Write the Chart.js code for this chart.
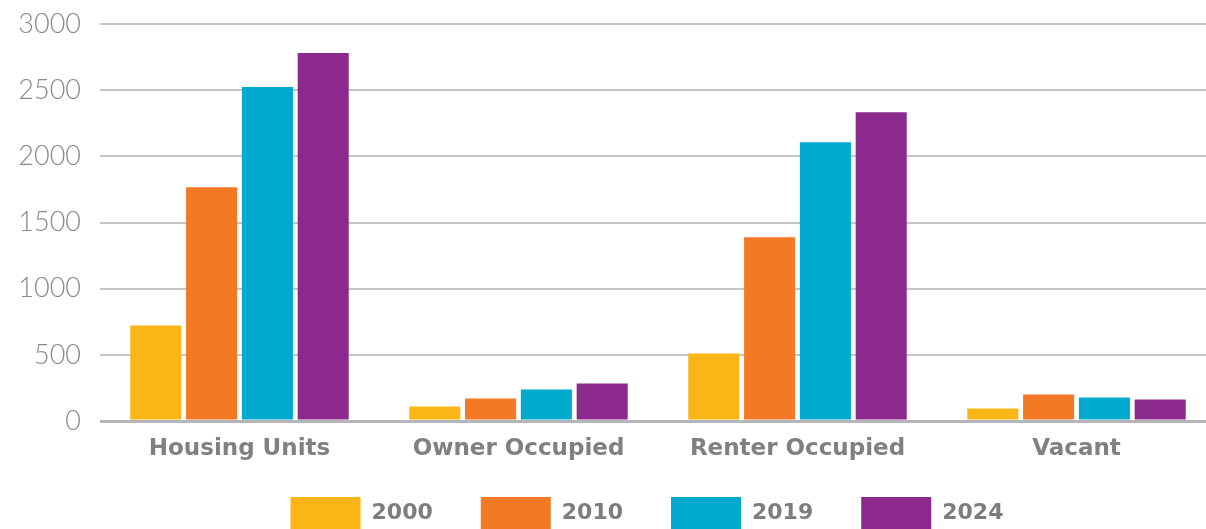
<!DOCTYPE html>
<html>
<head>
<meta charset="utf-8">
<script src="https://cdn.jsdelivr.net/npm/chart.js@4/dist/chart.umd.min.js"></script>
<style>
  html, body { margin: 0; padding: 0; background: #ffffff; overflow: hidden; }
  #wrap { position: relative; width: 1216px; height: 539px; }
</style>
</head>
<body>
<div id="wrap"><canvas id="c"></canvas></div>
<script>
const categories = ["Housing Units", "Owner Occupied", "Renter Occupied", "Vacant"];
const seriesNames = ["2000", "2010", "2019", "2024"];
const values2000 = [722, 110, 511, 95];
const values2010 = [1766, 170, 1388, 200];
const values2019 = [2523, 238, 2107, 178];
const values2024 = [2780, 284, 2334, 163];
const seriesColors = ["#FBB516", "#F37924", "#00A9CE", "#8B2A8C"];
const yTicks = [0, 500, 1000, 1500, 2000, 2500, 3000];

const allValues = [values2000, values2010, values2019, values2024];

const layoutTweak = {
  id: 'layoutTweak',
  afterLayout(chart) {
    if (chart.legend) {
      chart.legend.left += 39;
      chart.legend.right += 39;
    }
    const xs = chart.scales.x;
    if (xs) { xs.bottom = xs.top + 60; }
  }
};

new Chart(document.getElementById('c'), {
  type: 'bar',
  data: {
    labels: categories,
    datasets: seriesNames.map((name, i) => ({
      label: name,
      data: allValues[i],
      backgroundColor: seriesColors[i],
      borderWidth: 0,
      categoryPercentage: 0.8,
      barPercentage: 0.915
    }))
  },
  options: {
    responsive: true,
    maintainAspectRatio: false,
    animation: false,
    layout: { padding: { top: 24, left: 0, right: 0, bottom: 0 } },
    plugins: {
      tooltip: { enabled: false },
      legend: {
        position: 'bottom',
        align: 'center',
        labels: {
          boxWidth: 70,
          boxHeight: 32,
          padding: 48,
          color: '#7d7d7d',
          font: { family: 'DejaVu Sans', weight: 'bold', size: 22 }
        }
      }
    },
    scales: {
      x: {
        grid: { display: false, drawTicks: false },
        border: { display: false },
        ticks: {
          padding: 14,
          color: '#808080',
          font: { family: 'DejaVu Sans', weight: 'bold', size: 23 }
        },
        afterFit(scale) { scale.height = 28; }
      },
      y: {
        min: 0,
        max: 3000,
        afterBuildTicks(scale) { scale.ticks = yTicks.map(v => ({ value: v })); },
        grid: {
          drawTicks: true,
          tickLength: 19,
          tickColor: 'rgba(0,0,0,0)',
          color: ctx => ctx.tick && ctx.tick.value === 0 ? '#b5b5ba' : '#c6c6ca',
          lineWidth: ctx => ctx.tick && ctx.tick.value === 0 ? 3 : 2
        },
        border: { display: false },
        ticks: {
          padding: 0,
          color: '#8a8a8a',
          font: { family: 'Lato', weight: '300', size: 27 },
          callback: v => String(v)
        },
        afterFit(scale) { scale.width = 100; }
      }
    }
  },
  plugins: [layoutTweak]
});
</script>
</body>
</html>
